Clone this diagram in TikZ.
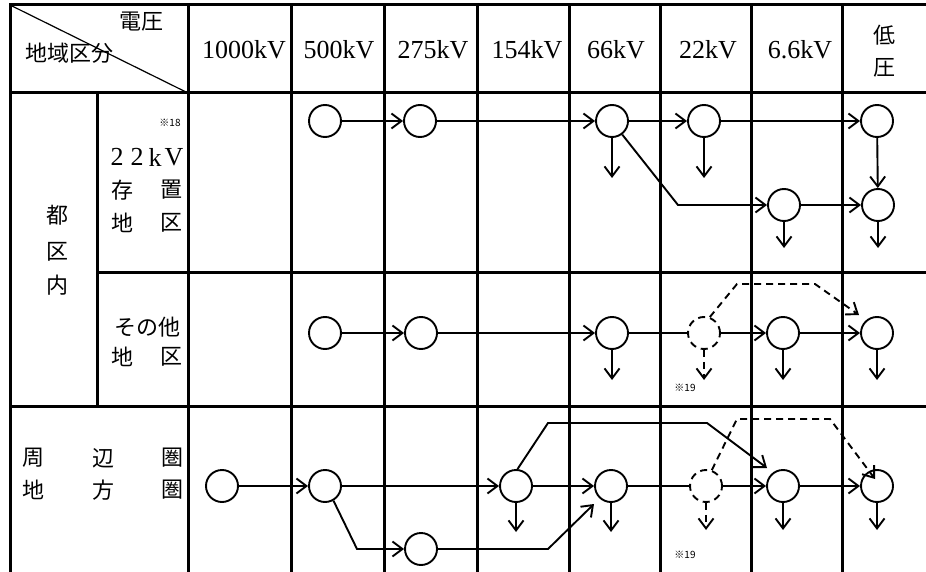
\documentclass[tikz,border=0pt]{standalone}
\usepackage{fontspec}
\newfontfamily\jp{Noto Sans CJK JP}
\newfontfamily\numf{Liberation Serif}
\usetikzlibrary{arrows.meta}
\begin{document}
\begin{tikzpicture}[x=1pt,y=-1pt,
  grid/.style={line width=3pt,line cap=rect},
  stn/.style={circle,draw,line width=1.9pt,minimum size=32pt,inner sep=0pt},
  dstn/.style={stn,dash pattern=on 7pt off 5pt},
  flow/.style={line width=1.9pt,-{Straight Barb[length=10pt,width=15pt,line width=1.9pt]}},
  link/.style={line width=1.9pt},
  dflow/.style={flow,dash pattern=on 7pt off 5pt},
  jt/.style={font=\jp\fontsize{22}{24}\selectfont,inner sep=0pt},
  vt/.style={font=\numf\fontsize{26}{28}\selectfont,inner sep=0pt},
  note/.style={font=\jp\fontsize{10}{12}\selectfont,inner sep=0pt}]
\useasboundingbox (0,0) rectangle (926,572);
% grid
\draw[grid] (10,5) -- (926,5);
\draw[grid] (10,93) -- (926,93);
\draw[grid] (97,272) -- (926,272);
\draw[grid] (10,406) -- (926,406);
\draw[grid] (10,5) -- (10,572);
\draw[grid] (97,93) -- (97,406);
\foreach \x in {188,291,384,477,569,660,751,842} \draw[grid] (\x,5) -- (\x,572);
\draw[line width=1.2pt] (10,5) -- (188,93);
% header
\node[jt] (h1) at (141,22) {電圧};
\node[jt] (h2) at (69,53) {地域区分};
\node[vt] (v1) at (244,50) {1000kV};
\node[vt] (v2) at (339,50) {500kV};
\node[vt] (v3) at (433,50) {275kV};
\node[vt] (v4) at (527,50) {154kV};
\node[vt] (v5) at (616,50) {66kV};
\node[vt] (v6) at (708,50) {22kV};
\node[vt] (v7) at (800,50) {6.6kV};
\node[jt] (v8a) at (884,35) {低};
\node[jt] (v8b) at (884,68) {圧};
% left labels
\node[jt] (l1) at (57,215) {都};
\node[jt] (l2) at (57,252) {区};
\node[jt] (l3) at (57,285) {内};
\node[note] (n18) at (170,123) {※18};
\node[vt] (k1) at (117,157) {2};
\node[vt] (k2) at (137,157) {2};
\node[vt] (k3) at (155,157) {k};
\node[vt] (k4) at (174,157) {V};
\node[jt] (s1) at (122,190) {存};
\node[jt] (s2) at (171,190) {置};
\node[jt] (s3) at (122,223) {地};
\node[jt] (s4) at (171,223) {区};
\node[jt] (o1) at (147,327) {その他};
\node[jt] (o2) at (122,357) {地};
\node[jt] (o3) at (171,357) {区};
\node[jt] (p1) at (33,458) {周};
\node[jt] (p2) at (103,458) {辺};
\node[jt] (p3) at (172,458) {圏};
\node[jt] (p4) at (33,490) {地};
\node[jt] (p5) at (103,490) {方};
\node[jt] (p6) at (172,490) {圏};
% row 1
\node[stn] (a1) at (325,121) {};
\node[stn] (a2) at (420,121) {};
\node[stn] (a3) at (612,121) {};
\node[stn] (a4) at (704,121) {};
\node[stn] (a5) at (877,121) {};
\node[stn] (a6) at (784,205) {};
\node[stn] (a7) at (878,205) {};
\coordinate (ac) at (678,205);
\coordinate (ad3) at (612,178);
\coordinate (ad4) at (704,178);
\coordinate (ad6) at (784,248);
\coordinate (ad7) at (878,248);
\draw[flow] (a1) -- (a2);
\draw[flow] (a2) -- (a3);
\draw[flow] (a3) -- (a4);
\draw[flow] (a4) -- (a5);
\draw[flow] (a5) -- (a7);
\draw[flow] (a6) -- (a7);
\draw[flow] (a3.-53) -- (ac) -- (a6);
\draw[flow] (a3) -- (ad3);
\draw[flow] (a4) -- (ad4);
\draw[flow] (a6) -- (ad6);
\draw[flow] (a7) -- (ad7);
% row 2
\node[stn] (b1) at (325,333) {};
\node[stn] (b2) at (421,333) {};
\node[stn] (b3) at (612,333) {};
\node[dstn] (b4) at (704,333) {};
\node[stn] (b5) at (783,333) {};
\node[stn] (b6) at (877,333) {};
\coordinate (bd3) at (612,380);
\coordinate (bd4) at (704,380);
\coordinate (bd5) at (783,380);
\coordinate (bd6) at (877,380);
\coordinate (bk1) at (737,284);
\coordinate (bk2) at (815,284);
\coordinate (bk3) at (859,315);
\draw[flow] (b1) -- (b2);
\draw[flow] (b2) -- (b3);
\draw[link] (b3) -- (b4);
\draw[flow] (b4) -- (b5);
\draw[flow] (b5) -- (b6);
\draw[flow] (b3) -- (bd3);
\draw[dflow] (b4) -- (bd4);
\draw[flow] (b5) -- (bd5);
\draw[flow] (b6) -- (bd6);
\draw[dflow] (b4.70) -- (bk1) -- (bk2) -- (bk3);
\node[note] (n19a) at (685,388) {※19};
% row 3
\node[stn] (c1) at (222,486) {};
\node[stn] (c2) at (325,486) {};
\node[stn] (c3) at (516,486) {};
\node[stn] (c4) at (611,486) {};
\node[dstn] (c5) at (706,486) {};
\node[stn] (c6) at (783,486) {};
\node[stn] (c7) at (877,486) {};
\node[stn] (c8) at (421,549) {};
\coordinate (cd3) at (516,532);
\coordinate (cd4) at (611,532);
\coordinate (cd5) at (706,530);
\coordinate (cd6) at (783,530);
\coordinate (cd7) at (877,530);
\coordinate (ck1) at (357,549);
\coordinate (ck2) at (548,549);
\coordinate (ck3) at (594,504);
\coordinate (cu1) at (548,423);
\coordinate (cu2) at (707,423);
\coordinate (cu3) at (767,468);
\coordinate (cw1) at (737,419);
\coordinate (cw2) at (830,419);
\coordinate (cw3) at (875,479);
\draw[flow] (c1) -- (c2);
\draw[flow] (c2) -- (c3);
\draw[flow] (c3) -- (c4);
\draw[link] (c4) -- (c5);
\draw[flow] (c5) -- (c6);
\draw[flow] (c6) -- (c7);
\draw[flow] (c2.-60) -- (ck1) -- (c8);
\draw[flow] (c8) -- (ck2) -- (ck3);
\draw[flow] (c3.85) -- (cu1) -- (cu2) -- (cu3);
\draw[dflow] (c5.70) -- (cw1) -- (cw2) -- (cw3);
\draw[flow] (c3) -- (cd3);
\draw[flow] (c4) -- (cd4);
\draw[dflow] (c5) -- (cd5);
\draw[flow] (c6) -- (cd6);
\draw[flow] (c7) -- (cd7);
\node[note] (n19b) at (685,555) {※19};
\end{tikzpicture}
\end{document}
